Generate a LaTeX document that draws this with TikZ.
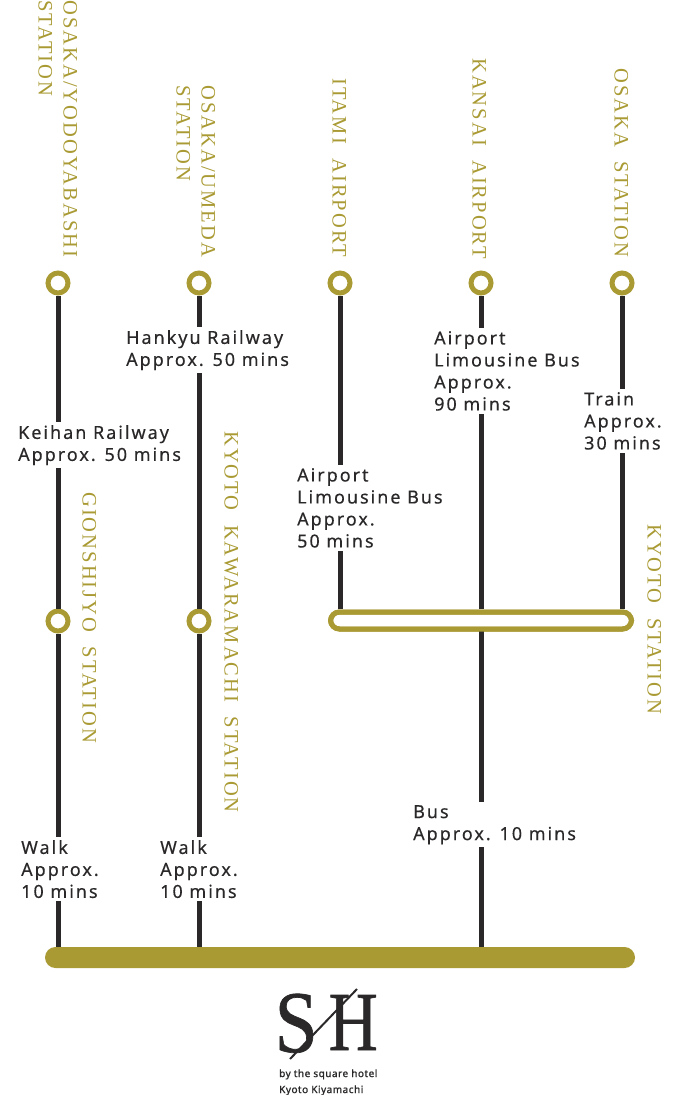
\documentclass[tikz,border=0pt]{standalone}
\usepackage{fontspec}
\newfontfamily\stfont[LetterSpace=10,WordSpace=2]{Liberation Serif}
\newfontfamily\lbfont[LetterSpace=11,FakeBold=0.25]{Noto Sans}
\newfontfamily\logofont[FakeBold=0.8]{Liberation Serif}
\newfontfamily\subfont[LetterSpace=5,FakeBold=1.2]{Noto Sans}
\definecolor{gold}{HTML}{A99A33}
\definecolor{ink}{HTML}{2A2829}
\tikzset{
  stn/.style={circle,draw=gold,line width=5pt,fill=white,minimum size=20pt,inner sep=0pt},
  rail/.style={draw=ink,line width=5pt},
  vlabel/.style={rotate=-90,anchor=base west,inner sep=0pt,text=gold,font=\fontsize{20.5}{20.5}\stfont},
  route/.style={anchor=north west,align=left,inner xsep=0pt,inner ysep=3pt,fill=white,text=ink,font=\fontsize{18}{22}\lbfont},
}
\begin{document}
\begin{tikzpicture}[x=1pt,y=-1pt]
\useasboundingbox (0,0) rectangle (680,1095);
% destination bar
\node[fill=gold,rounded corners=10.5pt,minimum width=590pt,minimum height=21pt,inner sep=0pt] (hotel) at (340,957.5) {};
\coordinate (hA) at (58,947); \coordinate (hB) at (199,947); \coordinate (hC) at (481,947);
% Kyoto pill
\node[draw=gold,line width=5pt,fill=white,rounded corners=9pt,minimum width=301pt,minimum height=17pt,inner sep=0pt] (kyoto) at (481,620.5) {};
\coordinate (kT1) at (340,609); \coordinate (kT2) at (481,609); \coordinate (kT3) at (622,609); \coordinate (kB) at (481,631);
% stations
\node[stn] (yodo) at (58,283) {};
\node[stn] (umeda) at (199,283) {};
\node[stn] (itami) at (340,283) {};
\node[stn] (kansai) at (481,283) {};
\node[stn] (osaka) at (622,283) {};
\node[stn] (gion) at (58,621) {};
\node[stn] (kawa) at (199,621) {};
% connectors
\draw[rail] (yodo) -- (gion);
\draw[rail] (gion) -- (hA);
\draw[rail] (umeda) -- (kawa);
\draw[rail] (kawa) -- (hB);
\draw[rail] (itami) -- (kT1);
\draw[rail] (kansai) -- (kT2);
\draw[rail] (osaka) -- (kT3);
\draw[rail] (kB) -- (hC);
% redraw pill edge above the rails
\node[draw=gold,line width=5pt,rounded corners=9pt,minimum width=301pt,minimum height=17pt,inner sep=0pt] (kyotoTop) at (481,620.5) {};
% route labels
\node[route] (r1) at (18,422) {Keihan Railway\\Approx. 50 mins};
\node[route] (r2) at (126,327) {Hankyu Railway\\Approx. 50 mins};
\node[route] (r3) at (297,465) {Airport\\Limousine Bus\\Approx.\\50 mins};
\node[route] (r4) at (434,328) {Airport\\Limousine Bus\\Approx.\\90 mins};
\node[route] (r5) at (584,389) {Train\\Approx.\\30 mins};
\node[route] (r6) at (21,837) {Walk\\Approx.\\10 mins};
\node[route] (r7) at (160,837) {Walk\\Approx.\\10 mins};
\node[route] (r8) at (413,802) {Bus\\Approx. 10 mins};
% station names
\node[vlabel] (n1a) at (63.5,0) {OSAKA/YODOYABASHI};
\node[vlabel] (n1b) at (38.5,0) {STATION};
\node[vlabel] (n2a) at (201.5,85) {OSAKA/UMEDA};
\node[vlabel] (n2b) at (176.5,85) {STATION};
\node[vlabel] (n3) at (332.5,78) {ITAMI AIRPORT};
\node[vlabel] (n4) at (472.5,58) {KANSAI AIRPORT};
\node[vlabel] (n5) at (614.5,68) {OSAKA STATION};
\node[vlabel] (n6) at (82.5,492) {GIONSHIJYO STATION};
\node[vlabel] (n7) at (224.5,431) {KYOTO KAWARAMACHI STATION};
\node[vlabel] (n8) at (647.5,524) {KYOTO STATION};
% logo
\node[anchor=base west,inner sep=0pt,text=ink,xscale=.88,font=\fontsize{88}{88}\logofont] (logoS) at (274.5,1052) {S};
\node[anchor=base west,inner sep=0pt,text=ink,xscale=.81,font=\fontsize{84}{84}\logofont] (logoH) at (328.5,1050) {H};
\draw[ink,line width=2pt] (290,1059) -- (357,989);
\node[anchor=base west,inner sep=0pt,text=ink,font=\fontsize{10}{10}\subfont] (sub1) at (279,1077) {by the square hotel};
\node[anchor=base west,inner sep=0pt,text=ink,font=\fontsize{10}{10}\subfont] (sub2) at (279,1093) {Kyoto Kiyamachi};
\end{tikzpicture}
\end{document}
